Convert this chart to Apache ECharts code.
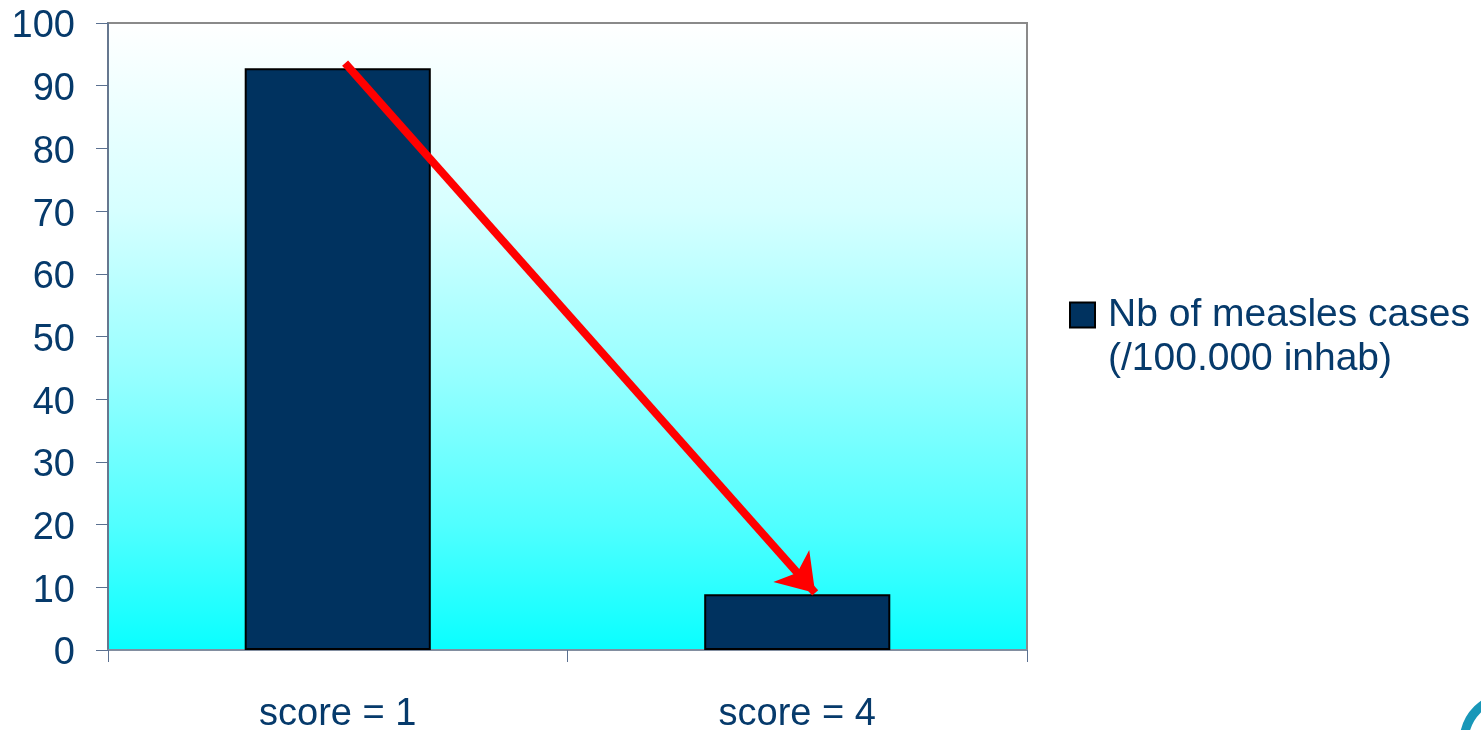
<!DOCTYPE html>
<html>
<head>
<meta charset="utf-8">
<script src="https://cdn.jsdelivr.net/npm/echarts@6/dist/echarts.min.js"></script>
<style>html,body{margin:0;padding:0;background:#fff;}#c{width:1481px;height:730px;}</style>
</head>
<body>
<div id="c"></div>
<script>
var categories = ['score = 1', 'score = 4'];
var seriesName = 'Nb of measles cases\n(/100.000 inhab)';
var values = [92.8, 8.9];
var yTicks = [0, 100, 10];
// arrow annotation [x in category units (0..2), y value]
var arrowStart = [0.516, 93.6];
var arrowEnd = [1.539, 9.1];

var txt = '#063a6b';
var chart = echarts.init(document.getElementById('c'));
chart.setOption({
  animation: false,
  grid: {
    left: 108, right: 454, top: 23, bottom: 80,
    containLabel: false,
    outerBoundsMode: 'none',
    show: true,
    borderColor: '#8a8a8a', borderWidth: 2,
    backgroundColor: new echarts.graphic.LinearGradient(0, 0, 0, 1, [
      {offset: 0, color: '#ffffff'},
      {offset: 0.3, color: '#d6ffff'},
      {offset: 0.55, color: '#99ffff'},
      {offset: 0.8, color: '#50ffff'},
      {offset: 1, color: '#08ffff'}
    ])
  },
  legend: {
    data: [seriesName],
    orient: 'vertical',
    left: 1064, top: 244,
    icon: 'rect',
    itemWidth: 25, itemHeight: 25,
    formatter: function (name) {
      var parts = name.split('\n');
      return '{t| }\n{t|' + parts[0] + '}\n{t|' + parts[1] + '}';
    },
    textStyle: {
      color: txt, fontSize: 39, fontFamily: 'Liberation Sans', lineHeight: 44,
      rich: {t: {color: txt, fontSize: 39, fontFamily: 'Liberation Sans', lineHeight: 44, padding: [0, 0, 0, 8]}}
    }
  },
  xAxis: [{
    type: 'category',
    data: categories,
    boundaryGap: true,
    axisLine: {lineStyle: {color: '#8090a8', width: 1.5}},
    axisTick: {show: true, length: 12, alignWithLabel: false, lineStyle: {color: '#5a7090'}},
    axisLabel: {color: txt, fontSize: 38, fontFamily: 'Liberation Sans', margin: 46}
  }, {
    type: 'value', min: 0, max: 2, show: false
  }],
  yAxis: {
    type: 'value',
    min: yTicks[0], max: yTicks[1], interval: yTicks[2],
    axisLine: {show: true, lineStyle: {color: '#5a7090', width: 1.5}},
    axisTick: {show: true, length: 12, lineStyle: {color: '#5a7090'}},
    splitLine: {show: false},
    axisLabel: {color: txt, fontSize: 38, fontFamily: 'Liberation Sans', margin: 33, verticalAlign: 'top', lineHeight: 8}
  },
  series: [{
    name: seriesName,
    type: 'bar',
    data: values,
    barWidth: '40.5%',
    itemStyle: {color: '#00325f', borderColor: '#000', borderWidth: 2}
  }, {
    type: 'lines',
    coordinateSystem: 'cartesian2d',
    xAxisIndex: 1,
    yAxisIndex: 0,
    symbol: ['none', 'arrow'],
    symbolSize: 36,
    lineStyle: {color: '#ff0000', width: 8, opacity: 1},
    data: [{coords: [arrowStart, arrowEnd]}],
    z: 5
  }],
  graphic: [{
    type: 'arc',
    shape: {cx: 1510, cy: 742, r: 46, startAngle: Math.PI * 0.75, endAngle: Math.PI * 1.4},
    style: {stroke: '#1897b8', lineWidth: 9, fill: null}
  }]
});
</script>
</body>
</html>
